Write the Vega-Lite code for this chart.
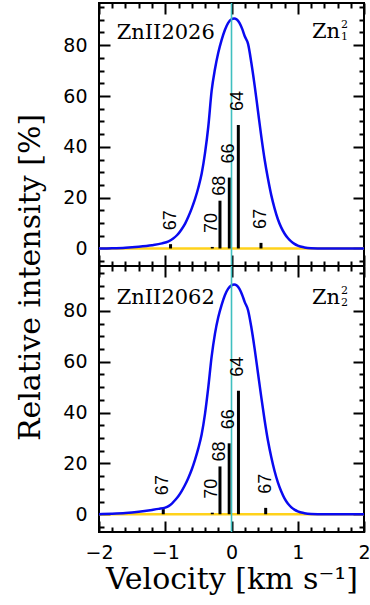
{
  "$schema": "https://vega.github.io/schema/vega-lite/v6.json",
  "autosize": {"type": "none"},
  "padding": {"left": 99, "top": 3, "right": 271, "bottom": 602},
  "background": "white",
  "spacing": 0,
  "bounds": "flush",
  "config": {
    "view": {"stroke": "black", "strokeWidth": 2},
    "axis": {"grid": false, "domain": false, "ticks": true, "tickColor": "black", "tickWidth": 2, "title": null, "labels": false}
  },
  "datasets": {
    "profile": [
      {"panel": 1, "v": -2.0, "I": 0.0}, {"panel": 1, "v": -1.8, "I": 0.1}, {"panel": 1, "v": -1.6, "I": 0.3},
      {"panel": 1, "v": -1.4, "I": 0.7}, {"panel": 1, "v": -1.2, "I": 1.3}, {"panel": 1, "v": -1.05, "I": 2.0},
      {"panel": 1, "v": -0.95, "I": 2.8}, {"panel": 1, "v": -0.88, "I": 3.9}, {"panel": 1, "v": -0.82, "I": 5.3},
      {"panel": 1, "v": -0.76, "I": 7.3}, {"panel": 1, "v": -0.7, "I": 9.8}, {"panel": 1, "v": -0.65, "I": 12.6},
      {"panel": 1, "v": -0.6, "I": 15.8}, {"panel": 1, "v": -0.55, "I": 19.5}, {"panel": 1, "v": -0.5, "I": 24.0},
      {"panel": 1, "v": -0.45, "I": 29.5}, {"panel": 1, "v": -0.4, "I": 37.5}, {"panel": 1, "v": -0.35, "I": 48.0},
      {"panel": 1, "v": -0.3, "I": 62.0}, {"panel": 1, "v": -0.25, "I": 70.5}, {"panel": 1, "v": -0.2, "I": 77.0},
      {"panel": 1, "v": -0.15, "I": 82.0}, {"panel": 1, "v": -0.1, "I": 86.0}, {"panel": 1, "v": -0.05, "I": 88.8},
      {"panel": 1, "v": 0.0, "I": 90.2}, {"panel": 1, "v": 0.04, "I": 90.5}, {"panel": 1, "v": 0.08, "I": 90.1},
      {"panel": 1, "v": 0.12, "I": 88.8}, {"panel": 1, "v": 0.16, "I": 86.5}, {"panel": 1, "v": 0.2, "I": 83.5},
      {"panel": 1, "v": 0.25, "I": 80.5}, {"panel": 1, "v": 0.3, "I": 73.0}, {"panel": 1, "v": 0.35, "I": 64.0},
      {"panel": 1, "v": 0.4, "I": 54.0}, {"panel": 1, "v": 0.45, "I": 44.0}, {"panel": 1, "v": 0.5, "I": 35.0},
      {"panel": 1, "v": 0.55, "I": 27.5}, {"panel": 1, "v": 0.6, "I": 21.0}, {"panel": 1, "v": 0.65, "I": 15.8},
      {"panel": 1, "v": 0.7, "I": 11.5}, {"panel": 1, "v": 0.75, "I": 8.3}, {"panel": 1, "v": 0.8, "I": 5.9},
      {"panel": 1, "v": 0.85, "I": 4.1}, {"panel": 1, "v": 0.9, "I": 2.8}, {"panel": 1, "v": 0.95, "I": 1.8},
      {"panel": 1, "v": 1.0, "I": 1.1}, {"panel": 1, "v": 1.1, "I": 0.4}, {"panel": 1, "v": 1.2, "I": 0.1},
      {"panel": 1, "v": 1.4, "I": 0.0}, {"panel": 1, "v": 2.0, "I": 0.0},

      {"panel": 2, "v": -2.0, "I": 0.0}, {"panel": 2, "v": -1.8, "I": 0.2}, {"panel": 2, "v": -1.6, "I": 0.5},
      {"panel": 2, "v": -1.4, "I": 1.0}, {"panel": 2, "v": -1.2, "I": 1.7}, {"panel": 2, "v": -1.1, "I": 2.1},
      {"panel": 2, "v": -1.0, "I": 2.6}, {"panel": 2, "v": -0.95, "I": 3.2}, {"panel": 2, "v": -0.9, "I": 4.2},
      {"panel": 2, "v": -0.85, "I": 5.6}, {"panel": 2, "v": -0.8, "I": 7.2}, {"panel": 2, "v": -0.75, "I": 9.2},
      {"panel": 2, "v": -0.7, "I": 11.6}, {"panel": 2, "v": -0.65, "I": 14.4}, {"panel": 2, "v": -0.6, "I": 17.6},
      {"panel": 2, "v": -0.55, "I": 21.5}, {"panel": 2, "v": -0.5, "I": 26.0}, {"panel": 2, "v": -0.45, "I": 31.5},
      {"panel": 2, "v": -0.4, "I": 39.5}, {"panel": 2, "v": -0.35, "I": 50.0}, {"panel": 2, "v": -0.3, "I": 62.0},
      {"panel": 2, "v": -0.25, "I": 71.0}, {"panel": 2, "v": -0.2, "I": 77.5}, {"panel": 2, "v": -0.15, "I": 82.3},
      {"panel": 2, "v": -0.1, "I": 86.2}, {"panel": 2, "v": -0.05, "I": 88.8}, {"panel": 2, "v": 0.0, "I": 90.1},
      {"panel": 2, "v": 0.04, "I": 90.4}, {"panel": 2, "v": 0.08, "I": 90.0}, {"panel": 2, "v": 0.12, "I": 88.7},
      {"panel": 2, "v": 0.16, "I": 86.4}, {"panel": 2, "v": 0.2, "I": 83.5}, {"panel": 2, "v": 0.25, "I": 80.3},
      {"panel": 2, "v": 0.3, "I": 73.5}, {"panel": 2, "v": 0.35, "I": 65.0}, {"panel": 2, "v": 0.4, "I": 55.5},
      {"panel": 2, "v": 0.45, "I": 46.0}, {"panel": 2, "v": 0.5, "I": 37.0}, {"panel": 2, "v": 0.55, "I": 29.0},
      {"panel": 2, "v": 0.6, "I": 22.5}, {"panel": 2, "v": 0.65, "I": 17.0}, {"panel": 2, "v": 0.7, "I": 12.5},
      {"panel": 2, "v": 0.75, "I": 9.0}, {"panel": 2, "v": 0.8, "I": 6.2}, {"panel": 2, "v": 0.85, "I": 4.2},
      {"panel": 2, "v": 0.9, "I": 2.8}, {"panel": 2, "v": 0.95, "I": 1.8}, {"panel": 2, "v": 1.0, "I": 1.1},
      {"panel": 2, "v": 1.1, "I": 0.4}, {"panel": 2, "v": 1.2, "I": 0.1}, {"panel": 2, "v": 1.4, "I": 0.0},
      {"panel": 2, "v": 2.0, "I": 0.0}
    ],
    "isotopes": [
      {"panel": 1, "mass": "67", "v": -0.92, "I": 1.7},
      {"panel": 1, "mass": "70", "v": -0.29, "I": 0.6},
      {"panel": 1, "mass": "68", "v": -0.174, "I": 18.8},
      {"panel": 1, "mass": "66", "v": -0.033, "I": 27.9},
      {"panel": 1, "mass": "64", "v": 0.103, "I": 48.6},
      {"panel": 1, "mass": "67", "v": 0.445, "I": 2.2},
      {"panel": 2, "mass": "67", "v": -1.03, "I": 2.0},
      {"panel": 2, "mass": "70", "v": -0.29, "I": 0.6},
      {"panel": 2, "mass": "68", "v": -0.174, "I": 18.8},
      {"panel": 2, "mass": "66", "v": -0.035, "I": 27.9},
      {"panel": 2, "mass": "64", "v": 0.105, "I": 48.6},
      {"panel": 2, "mass": "67", "v": 0.516, "I": 2.5}
    ],
    "panels": [
      {"panel": 1, "line": "ZnII2026", "ion": "Zn", "sup": "2", "sub": "1"},
      {"panel": 2, "line": "ZnII2062", "ion": "Zn", "sup": "2", "sub": "2"}
    ]
  },
  "vconcat": [
    {
      "width": 265,
      "height": 263,
      "resolve": {"axis": {"x": "independent", "y": "independent"}},
      "layer": [
        {
          "data": {"values": [{}]},
          "mark": {"type": "rule", "color": "#ffd21a", "strokeWidth": 2.6},
          "encoding": {
            "x": {"datum": -2, "type": "quantitative", "scale": {"domain": [-2, 2]},
              "axis": {"orient": "bottom", "values": [-2, -1, 0, 1, 2], "offset": -11, "tickSize": 11}},
            "x2": {"datum": 2},
            "y": {"datum": 0, "type": "quantitative", "scale": {"domain": [-6.9, 96.6]},
              "axis": {"orient": "left", "values": [0, 20, 40, 60, 80], "format": "d", "offset": -11, "tickSize": 11,
                "labels": true, "labelFont": "DejaVu Sans", "labelFontSize": 19, "labelColor": "black", "labelPadding": 12, "labelOverlap": false}}
          }
        },
        {
          "data": {"name": "isotopes"},
          "transform": [{"filter": "datum.panel == 1"}],
          "mark": {"type": "rule", "color": "black", "strokeWidth": 3},
          "encoding": {
            "x": {"field": "v", "type": "quantitative", "scale": {"domain": [-2, 2]},
              "axis": {"orient": "top", "values": [-2, -1, 0, 1, 2], "offset": -11, "tickSize": 11}},
            "y": {"field": "I", "type": "quantitative", "scale": {"domain": [-6.9, 96.6]},
              "axis": {"orient": "right", "values": [0, 20, 40, 60, 80], "offset": -11, "tickSize": 11}},
            "y2": {"datum": 0}
          }
        },
        {
          "data": {"name": "profile"},
          "transform": [{"filter": "datum.panel == 1"}],
          "mark": {"type": "line", "color": "#0a0af0", "strokeWidth": 2.5, "interpolate": "monotone"},
          "encoding": {
            "x": {"field": "v", "type": "quantitative", "scale": {"domain": [-2, 2]},
              "axis": {"orient": "bottom", "values": [-1.8,-1.6,-1.4,-1.2,-0.8,-0.6,-0.4,-0.2,0.2,0.4,0.6,0.8,1.2,1.4,1.6,1.8], "offset": -5, "tickSize": 5}},
            "y": {"field": "I", "type": "quantitative", "scale": {"domain": [-6.9, 96.6]},
              "axis": {"orient": "left", "values": [-5,5,10,15,25,30,35,45,50,55,65,70,75,85,90,95], "offset": -5, "tickSize": 5}}
          }
        },
        {
          "data": {"values": [{}]},
          "mark": {"type": "rule", "color": "#3fc0c0", "strokeWidth": 1.6},
          "encoding": {
            "x": {"datum": 0, "type": "quantitative", "scale": {"domain": [-2, 2]}, "axis": null}
          }
        },
        {
          "data": {"name": "isotopes"},
          "transform": [{"filter": "datum.panel == 1 && datum.mass != '68'"}],
          "mark": {"type": "text", "angle": 270, "align": "left", "baseline": "middle", "dx": 14, "font": "Liberation Sans", "fontSize": 18, "color": "black"},
          "encoding": {
            "x": {"field": "v", "type": "quantitative", "scale": {"domain": [-2, 2]},
              "axis": {"orient": "top", "values": [-1.8,-1.6,-1.4,-1.2,-0.8,-0.6,-0.4,-0.2,0.2,0.4,0.6,0.8,1.2,1.4,1.6,1.8], "offset": -5, "tickSize": 5}},
            "y": {"field": "I", "type": "quantitative", "scale": {"domain": [-6.9, 96.6]},
              "axis": {"orient": "right", "values": [-5,5,10,15,25,30,35,45,50,55,65,70,75,85,90,95], "offset": -5, "tickSize": 5}},
            "text": {"field": "mass"}
          }
        },
        {
          "data": {"name": "isotopes"},
          "transform": [{"filter": "datum.panel == 1 && datum.mass == '68'"}],
          "mark": {"type": "text", "angle": 270, "align": "left", "baseline": "middle", "dx": 5, "font": "Liberation Sans", "fontSize": 18, "color": "black"},
          "encoding": {
            "x": {"field": "v", "type": "quantitative", "scale": {"domain": [-2, 2]}, "axis": null},
            "y": {"field": "I", "type": "quantitative", "scale": {"domain": [-6.9, 96.6]}, "axis": null},
            "text": {"field": "mass"}
          }
        },
        {
          "data": {"name": "panels"},
          "transform": [{"filter": "datum.panel == 1"}],
          "mark": {"type": "text", "align": "left", "baseline": "alphabetic", "font": "DejaVu Serif", "fontSize": 21, "color": "black"},
          "encoding": {
            "x": {"datum": -1.733, "type": "quantitative", "scale": {"domain": [-2, 2]}, "axis": null},
            "y": {"datum": 82.4, "type": "quantitative", "scale": {"domain": [-6.9, 96.6]}, "axis": null},
            "text": {"field": "line"}
          }
        },
        {
          "data": {"name": "panels"},
          "transform": [{"filter": "datum.panel == 1"}],
          "mark": {"type": "text", "align": "right", "baseline": "alphabetic", "font": "DejaVu Serif", "fontSize": 21, "color": "black"},
          "encoding": {
            "x": {"datum": 1.638, "type": "quantitative", "scale": {"domain": [-2, 2]}, "axis": null},
            "y": {"datum": 82.7, "type": "quantitative", "scale": {"domain": [-6.9, 96.6]}, "axis": null},
            "text": {"field": "ion"}
          }
        },
        {
          "data": {"name": "panels"},
          "transform": [{"filter": "datum.panel == 1"}],
          "mark": {"type": "text", "align": "left", "baseline": "alphabetic", "dx": 1, "dy": -10.5, "font": "DejaVu Serif", "fontSize": 11, "color": "black"},
          "encoding": {
            "x": {"datum": 1.638, "type": "quantitative", "scale": {"domain": [-2, 2]}, "axis": null},
            "y": {"datum": 82.7, "type": "quantitative", "scale": {"domain": [-6.9, 96.6]}, "axis": null},
            "text": {"field": "sup"}
          }
        },
        {
          "data": {"name": "panels"},
          "transform": [{"filter": "datum.panel == 1"}],
          "mark": {"type": "text", "align": "left", "baseline": "alphabetic", "dx": 1, "dy": 1.5, "font": "DejaVu Serif", "fontSize": 11, "color": "black"},
          "encoding": {
            "x": {"datum": 1.638, "type": "quantitative", "scale": {"domain": [-2, 2]}, "axis": null},
            "y": {"datum": 82.7, "type": "quantitative", "scale": {"domain": [-6.9, 96.6]}, "axis": null},
            "text": {"field": "sub"}
          }
        }
      ]
    },
    {
      "width": 265,
      "height": 266,
      "resolve": {"axis": {"x": "independent", "y": "independent"}},
      "layer": [
        {
          "data": {"values": [{}]},
          "mark": {"type": "rule", "color": "#ffd21a", "strokeWidth": 2.6},
          "encoding": {
            "x": {"datum": -2, "type": "quantitative", "scale": {"domain": [-2, 2]},
              "axis": {"orient": "bottom", "values": [-2, -1, 0, 1, 2], "format": "d", "offset": -11, "tickSize": 11,
                "labels": true, "labelFont": "DejaVu Sans", "labelFontSize": 19, "labelColor": "black", "labelPadding": 11, "labelFlush": false, "labelOverlap": false,
                "title": "Velocity [km s⁻¹]", "titleFont": "DejaVu Serif", "titleFontSize": 30, "titleFontWeight": "normal", "titleColor": "black", "titleY": 67, "titleBaseline": "alphabetic"}},
            "x2": {"datum": 2},
            "y": {"datum": 0, "type": "quantitative", "scale": {"domain": [-7, 97.7]},
              "axis": {"orient": "left", "values": [0, 20, 40, 60, 80], "format": "d", "offset": -11, "tickSize": 11,
                "labels": true, "labelFont": "DejaVu Sans", "labelFontSize": 19, "labelColor": "black", "labelPadding": 12, "labelOverlap": false,
                "title": "Relative intensity [%]", "titleFont": "DejaVu Serif", "titleFontSize": 30, "titleFontWeight": "normal", "titleColor": "black",
                "titleAngle": 270, "titleX": -71, "titleY": 11, "titleAlign": "center", "titleBaseline": "alphabetic"}}
          }
        },
        {
          "data": {"name": "isotopes"},
          "transform": [{"filter": "datum.panel == 2"}],
          "mark": {"type": "rule", "color": "black", "strokeWidth": 3},
          "encoding": {
            "x": {"field": "v", "type": "quantitative", "scale": {"domain": [-2, 2]},
              "axis": {"orient": "top", "values": [-2, -1, 0, 1, 2], "offset": -11, "tickSize": 11}},
            "y": {"field": "I", "type": "quantitative", "scale": {"domain": [-7, 97.7]},
              "axis": {"orient": "right", "values": [0, 20, 40, 60, 80], "offset": -11, "tickSize": 11}},
            "y2": {"datum": 0}
          }
        },
        {
          "data": {"name": "profile"},
          "transform": [{"filter": "datum.panel == 2"}],
          "mark": {"type": "line", "color": "#0a0af0", "strokeWidth": 2.5, "interpolate": "monotone"},
          "encoding": {
            "x": {"field": "v", "type": "quantitative", "scale": {"domain": [-2, 2]},
              "axis": {"orient": "bottom", "values": [-1.8,-1.6,-1.4,-1.2,-0.8,-0.6,-0.4,-0.2,0.2,0.4,0.6,0.8,1.2,1.4,1.6,1.8], "offset": -5, "tickSize": 5}},
            "y": {"field": "I", "type": "quantitative", "scale": {"domain": [-7, 97.7]},
              "axis": {"orient": "left", "values": [-5,5,10,15,25,30,35,45,50,55,65,70,75,85,90,95], "offset": -5, "tickSize": 5}}
          }
        },
        {
          "data": {"values": [{}]},
          "mark": {"type": "rule", "color": "#3fc0c0", "strokeWidth": 1.6},
          "encoding": {
            "x": {"datum": 0, "type": "quantitative", "scale": {"domain": [-2, 2]}, "axis": null}
          }
        },
        {
          "data": {"name": "isotopes"},
          "transform": [{"filter": "datum.panel == 2 && datum.mass != '68'"}],
          "mark": {"type": "text", "angle": 270, "align": "left", "baseline": "middle", "dx": 14, "font": "Liberation Sans", "fontSize": 18, "color": "black"},
          "encoding": {
            "x": {"field": "v", "type": "quantitative", "scale": {"domain": [-2, 2]},
              "axis": {"orient": "top", "values": [-1.8,-1.6,-1.4,-1.2,-0.8,-0.6,-0.4,-0.2,0.2,0.4,0.6,0.8,1.2,1.4,1.6,1.8], "offset": -5, "tickSize": 5}},
            "y": {"field": "I", "type": "quantitative", "scale": {"domain": [-7, 97.7]},
              "axis": {"orient": "right", "values": [-5,5,10,15,25,30,35,45,50,55,65,70,75,85,90,95], "offset": -5, "tickSize": 5}},
            "text": {"field": "mass"}
          }
        },
        {
          "data": {"name": "isotopes"},
          "transform": [{"filter": "datum.panel == 2 && datum.mass == '68'"}],
          "mark": {"type": "text", "angle": 270, "align": "left", "baseline": "middle", "dx": 5, "font": "Liberation Sans", "fontSize": 18, "color": "black"},
          "encoding": {
            "x": {"field": "v", "type": "quantitative", "scale": {"domain": [-2, 2]}, "axis": null},
            "y": {"field": "I", "type": "quantitative", "scale": {"domain": [-7, 97.7]}, "axis": null},
            "text": {"field": "mass"}
          }
        },
        {
          "data": {"name": "panels"},
          "transform": [{"filter": "datum.panel == 2"}],
          "mark": {"type": "text", "align": "left", "baseline": "alphabetic", "font": "DejaVu Serif", "fontSize": 21, "color": "black"},
          "encoding": {
            "x": {"datum": -1.733, "type": "quantitative", "scale": {"domain": [-2, 2]}, "axis": null},
            "y": {"datum": 82.6, "type": "quantitative", "scale": {"domain": [-7, 97.7]}, "axis": null},
            "text": {"field": "line"}
          }
        },
        {
          "data": {"name": "panels"},
          "transform": [{"filter": "datum.panel == 2"}],
          "mark": {"type": "text", "align": "right", "baseline": "alphabetic", "font": "DejaVu Serif", "fontSize": 21, "color": "black"},
          "encoding": {
            "x": {"datum": 1.638, "type": "quantitative", "scale": {"domain": [-2, 2]}, "axis": null},
            "y": {"datum": 82.7, "type": "quantitative", "scale": {"domain": [-7, 97.7]}, "axis": null},
            "text": {"field": "ion"}
          }
        },
        {
          "data": {"name": "panels"},
          "transform": [{"filter": "datum.panel == 2"}],
          "mark": {"type": "text", "align": "left", "baseline": "alphabetic", "dx": 1, "dy": -10.5, "font": "DejaVu Serif", "fontSize": 11, "color": "black"},
          "encoding": {
            "x": {"datum": 1.638, "type": "quantitative", "scale": {"domain": [-2, 2]}, "axis": null},
            "y": {"datum": 82.7, "type": "quantitative", "scale": {"domain": [-7, 97.7]}, "axis": null},
            "text": {"field": "sup"}
          }
        },
        {
          "data": {"name": "panels"},
          "transform": [{"filter": "datum.panel == 2"}],
          "mark": {"type": "text", "align": "left", "baseline": "alphabetic", "dx": 1, "dy": 1.5, "font": "DejaVu Serif", "fontSize": 11, "color": "black"},
          "encoding": {
            "x": {"datum": 1.638, "type": "quantitative", "scale": {"domain": [-2, 2]}, "axis": null},
            "y": {"datum": 82.7, "type": "quantitative", "scale": {"domain": [-7, 97.7]}, "axis": null},
            "text": {"field": "sub"}
          }
        }
      ]
    }
  ]
}
